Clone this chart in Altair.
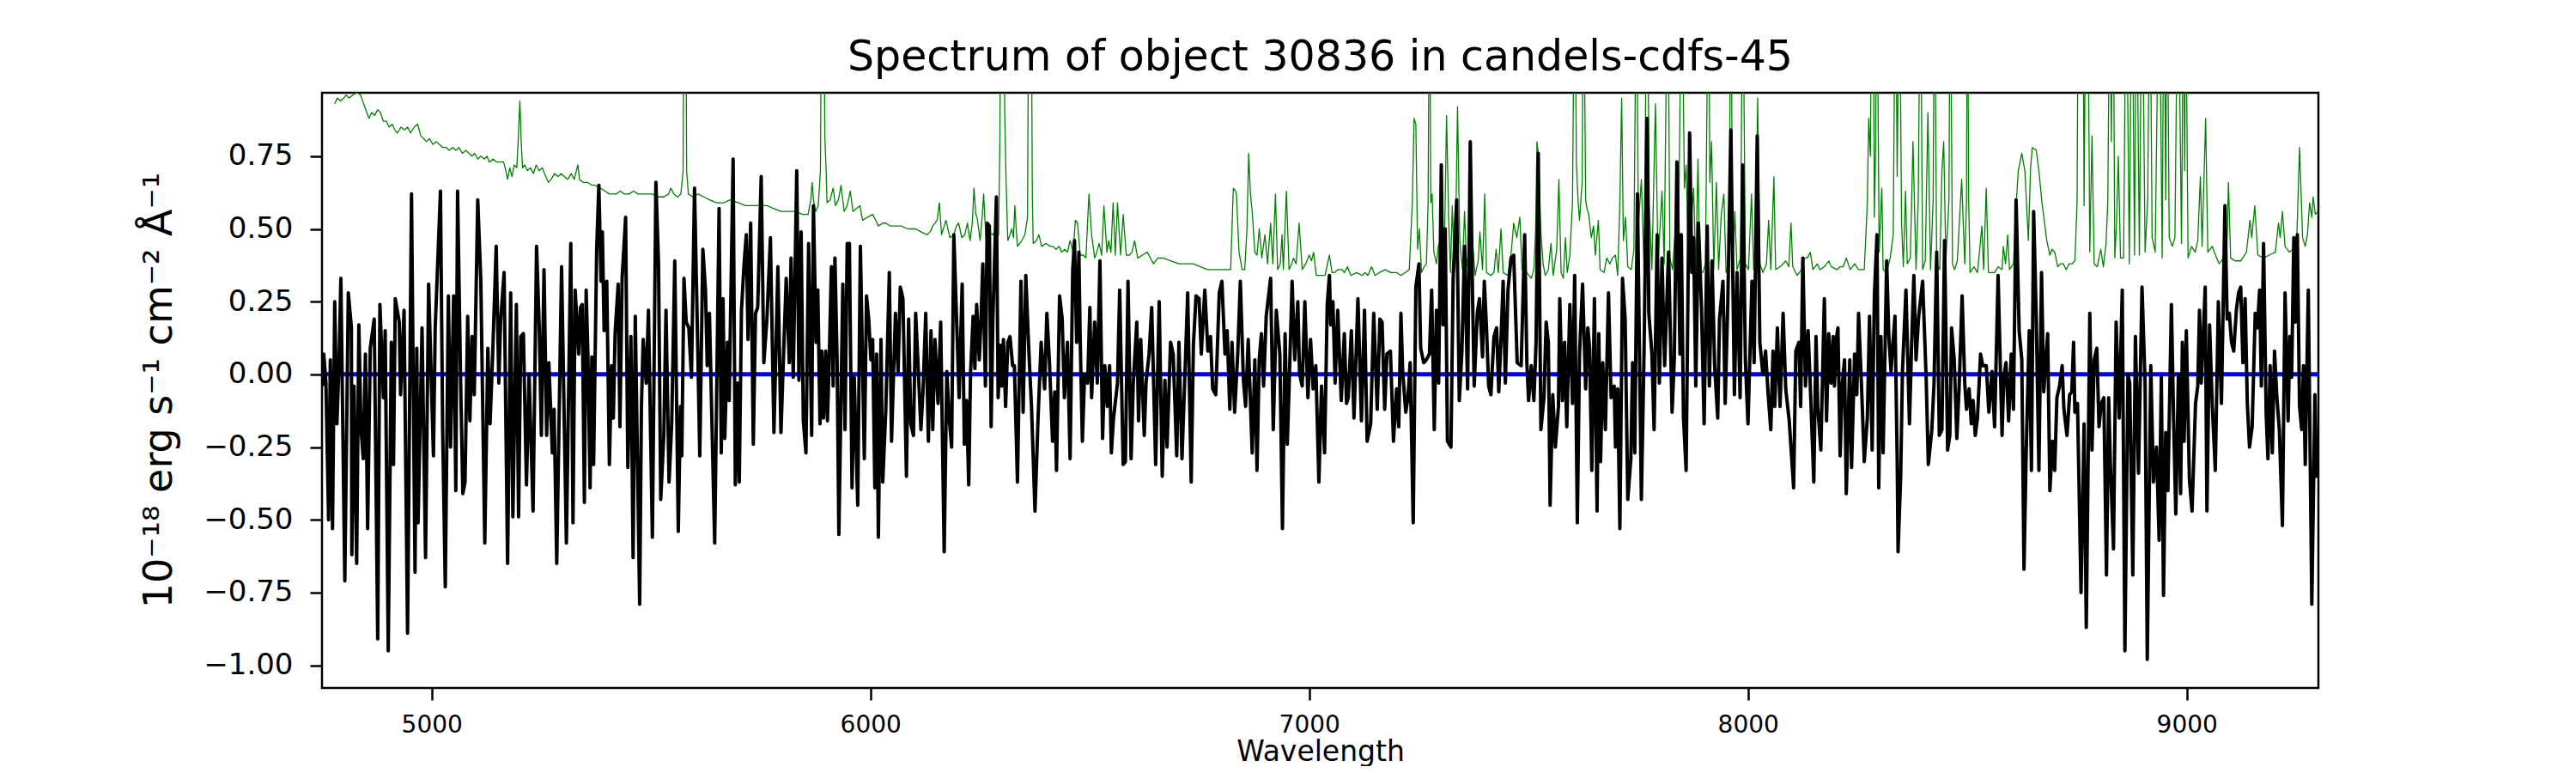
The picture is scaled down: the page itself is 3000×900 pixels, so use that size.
import altair as alt
import pandas as pd

# ---------------- data ----------------
# observed flux (black)
black_wave = [
4751,4754,4759,4765,4769,4774,4779,4784,4789,4793,4802,4810,4817,4818,4823,4829,4834,4839,4844,4849,
4854,4860,4869,4877,4882,4890,4894,4901,4908,4913,4917,4926,4929,4937,4945,4954,4962,4966,4969,4978,
4986,4993,5004,5008,5020,5025,5031,5038,5043,5050,5055,5059,5066,5071,5076,5082,5087,5092,5097,5105,
5112,5121,5128,5133,5139,5147,5153,5157,5165,5173,5180,5185,5193,5198,5203,5209,5216,5222,5231,5239,
5245,5250,5256,5262,5267,5275,5279,5285,5296,5307,5317,5322,5327,
5335,5339,5343,5348,5352,5356,5361,5365,5369,5376,5381,5386,5389,5393,5399,5405,5410,5414,5418,5425,
5429,5434,5442,5447,5454,5459,5464,5474,5478,5482,5489,5494,5503,5511,5517,5522,5529,5534,5541,5547,
5554,5562,5567,5570,5575,5580,5586,5592,5599,5606,5611,5618,5624,5628,5633,5645,5655,5660,5664,5668,
5674,5678,5687,5692,5697,5701,5706,5712,5717,5721,5727,5733,5738,5743,5751,5757,5764,5772,5780,5789,
5796,5802,5808,5815,5819,5824,5832,5837,5842,5847,5853,5859,5866,5870,5876,5880,5885,5889,
5893,5898,5902,5906,5911,5915,5919,5924,5928,5937,5942,5947,5952,5958,5963,5971,5977,5986,5991,5996,
6001,6005,6010,6014,6018,6024,6028,6035,6043,6048,6052,6057,6063,6068,6074,6082,6087,6092,6098,6103,
6108,6115,6120,6126,6132,6138,6142,6147,6154,6160,6168,6174,6180,6185,6190,6198,6202,6209,6214,6219,
6224,6228,6234,6238,6242,6248,6252,6256,6262,6266,6271,6275,6279,6287,6291,6296,6299,6303,6308,6313,
6318,6324,6328,6335,6343,6348,6354,6361,6367,6375,6382,6389,6397,6402,6408,6415,6420,6424,6431,6437,
6442,6449,6455,6461,
6465,6470,6475,6478,6483,6488,6495,6500,6504,6511,6517,6523,6529,6534,6540,6545,6549,6554,6563,6568,
6576,6581,6587,6594,6599,6607,6611,6616,6624,6628,6635,6641,6650,6658,6665,6671,6676,6684,6690,6698,
6703,6710,6716,6723,6731,6736,6742,6749,6754,6762,6769,6775,6780,6787,6795,6801,6808,6813,6819,6824,
6830,6837,6843,6850,6855,6861,6870,6876,6881,6886,6891,6896,6902,6912,6918,6925,6933,6939,6945,6950,
6954,6961,6967,6974,6978,6984,6990,6997,7003,7009,7015,7022,7028,
7035,7041,7046,7049,7054,7059,7065,7073,7080,7085,7089,7096,7102,7111,7119,7126,7132,7140,7147,7155,
7161,7166,7172,7177,7185,7192,7199,7204,7209,7213,7220,7225,7230,7237,7243,7250,7254,7261,7267,7274,
7279,7285,7290,7295,7301,7305,7310,7315,7323,7328,7336,7342,7348,7354,7361,7367,7372,7376,7383,7388,
7395,7399,7404,7409,7414,7421,7427,7432,7437,7442,7447,7453,7460,7466,7474,7483,7491,7496,7500,7506,
7512,7517,7522,7528,7535,7540,7545,7549,7555,7561,7568,7571,7577,7582,7587,7594,
7600,7605,7611,7616,7623,7630,7635,7639,7644,7650,7656,7660,7664,7669,7675,7682,7688,7695,7698,7703,
7708,7714,7720,7726,7733,7737,7742,7748,7757,7763,7770,7774,7781,7786,7793,7798,7804,7810,7819,7827,
7832,7838,7845,7848,7853,7859,7867,7872,7876,7881,7887,7894,7900,7907,7912,7918,7924,7931,7935,7943,
7948,7954,7961,7969,7975,7982,7988,7994,8000,8009,8014,8021,8027,8034,8040,8046,8052,8057,8061,8067,
8073,8080,8086,8094,8104,8109,8116,8120,8125,8131,8137,8142,8150,8155,
8159,8166,8174,8179,8184,8189,8194,8197,8202,8205,8210,8215,8220,8224,8232,8236,8243,8248,8252,8259,
8265,8272,8277,8283,8288,8294,8298,8303,8308,8316,8321,8326,8331,8335,8340,8342,8348,8352,8360,8368,
8373,8378,8383,8389,8398,8406,8411,8419,8424,8430,8436,8442,8448,8455,8460,8464,8470,8476,8481,8488,
8494,8498,8504,8509,8513,8518,8523,8530,8535,8543,8549,8556,8562,8570,8579,8583,8588,8594,8600,8605,
8611,8618,8624,8629,8634,8641,8646,8651,8657,8663,8669,8674,8683,8688,8694,8699,8704,8710,8716,8720,
8727,
8733,8738,8742,8745,8751,8759,8766,8771,8779,8784,8789,8795,8800,8805,8811,8817,8822,8826,8833,8839,
8846,8853,8859,8866,8870,8877,8883,8890,8898,8905,8910,8918,8924,8931,8937,8942,8947,8952,8957,8965,
8970,8975,8981,8986,8990,8994,8999,9006,9012,9020,9025,9029,9033,9042,9046,9052,9058,9065,9072,9079,
9087,9092,9097,9102,9107,9113,9118,9123,9128,9133,9138,9143,9149,9156,9161,9166,9170,9175,9181,9185,
9190,9195,9200,9205,9211,9218,9224,9231,9235,9239,9244,9247,9252,9257,9262,9266,9270,9277,9285,9292,
9296,9300,
]
black_flux = [
-0.04,0.07,-0.03,-0.50,0.05,-0.53,0.25,-0.17,0.05,0.33,-0.71,0.28,0.16,-0.62,-0.04,-0.65,0.17,-0.19,-0.29,0.07,
-0.53,0.09,0.19,-0.91,0.24,-0.08,0.15,-0.95,0.11,-0.31,0.26,0.18,-0.07,0.22,-0.89,0.62,-0.68,0.09,-0.51,0.16,
-0.63,0.31,-0.28,0.16,0.63,-0.19,-0.73,0.27,-0.25,0.27,-0.40,0.63,-0.03,-0.41,-0.37,0.20,-0.16,0.13,-0.07,0.60,
0.32,-0.58,0.09,-0.17,0.07,0.44,-0.03,0.18,0.35,-0.65,0.28,-0.49,0.24,-0.49,0.13,0.14,-0.38,0.00,-0.47,0.44,
0.17,-0.21,0.36,-0.21,0.04,-0.27,-0.12,-0.65,0.37,-0.58,0.45,-0.51,0.29,
0.07,0.23,0.24,-0.44,0.29,0.07,-0.39,0.06,-0.31,0.43,0.65,0.32,0.49,0.15,0.32,-0.31,0.03,-0.15,0.14,0.31,
-0.18,0.33,0.54,-0.32,0.13,-0.63,0.20,-0.79,-0.11,0.12,-0.03,0.22,-0.56,0.66,0.38,-0.43,-0.21,0.22,-0.37,-0.17,
0.39,-0.54,-0.11,-0.28,0.33,0.18,0.16,-0.01,0.64,0.12,-0.28,0.43,0.29,0.03,0.21,-0.58,0.57,-0.27,0.26,-0.22,
0.11,-0.09,0.74,-0.38,-0.03,-0.37,0.22,0.38,0.48,0.12,0.52,-0.24,0.21,0.23,0.68,0.04,0.19,0.47,-0.20,0.37,
-0.20,0.07,0.33,0.04,0.40,-0.01,0.70,-0.02,0.49,-0.16,-0.27,0.45,-0.21,0.58,0.11,0.29,-0.17,0.08,
-0.15,0.08,-0.16,0.05,0.37,-0.04,0.40,0.05,-0.55,0.31,-0.19,0.45,0.45,-0.39,-0.01,-0.45,0.44,-0.29,0.27,0.19,
0.05,0.12,-0.39,0.07,-0.56,0.12,-0.37,-0.12,0.35,-0.23,-0.03,0.21,0.01,0.30,0.26,-0.35,0.19,-0.17,-0.21,0.21,
0.05,-0.19,-0.05,0.21,-0.23,0.15,-0.19,0.12,-0.10,0.18,-0.61,0.01,-0.16,-0.25,0.48,0.11,-0.08,0.31,-0.24,-0.09,
-0.38,0.00,0.20,0.02,0.24,0.05,0.19,0.38,-0.04,0.52,0.51,-0.18,0.19,0.61,-0.08,0.10,-0.04,0.12,-0.11,0.11,
0.13,0.03,0.03,-0.37,0.32,-0.13,0.34,0.08,-0.11,-0.47,-0.15,0.11,-0.05,0.21,0.04,-0.23,-0.06,-0.33,0.27,0.19,
-0.08,0.11,-0.29,0.36,
0.46,0.11,0.42,0.12,-0.23,0.00,-0.03,0.23,-0.08,0.18,-0.03,0.39,-0.22,0.03,-0.11,0.03,-0.27,-0.15,-0.03,0.29,
-0.31,-0.30,0.32,-0.29,-0.03,0.18,-0.16,0.12,-0.21,-0.03,0.07,0.23,-0.31,0.25,-0.35,-0.02,-0.25,0.11,0.07,-0.28,
0.11,-0.29,-0.03,0.28,-0.37,0.10,0.27,0.26,0.07,0.29,0.08,0.13,-0.05,-0.07,0.28,0.32,0.07,0.15,-0.12,0.11,
-0.13,0.07,0.32,-0.02,-0.11,0.12,-0.27,0.05,-0.33,0.05,0.14,-0.04,0.20,0.33,-0.19,0.22,0.07,-0.53,0.14,-0.24,
-0.05,0.32,0.05,0.25,0.00,-0.04,0.25,-0.08,0.12,-0.05,0.03,-0.37,-0.04,
-0.27,0.24,0.34,0.17,0.25,-0.03,0.22,-0.09,0.14,-0.10,-0.08,0.15,-0.15,0.26,-0.16,0.22,-0.23,-0.17,0.21,-0.12,
0.19,0.18,-0.12,0.07,0.08,-0.23,-0.05,-0.18,0.21,0.01,-0.13,-0.08,0.04,-0.51,0.30,0.38,0.09,0.04,0.05,0.07,
0.29,-0.19,0.22,-0.03,0.72,0.17,0.50,-0.23,-0.25,0.33,0.60,-0.09,0.08,0.44,-0.05,0.80,0.29,-0.04,0.21,0.26,
0.06,0.32,0.16,-0.04,-0.07,0.13,0.16,-0.06,0.12,0.32,-0.03,0.29,0.40,0.41,0.04,0.03,0.48,0.04,-0.09,0.03,
-0.09,0.11,0.76,-0.19,-0.08,0.18,0.11,-0.45,-0.07,-0.25,-0.11,0.26,-0.09,0.11,-0.18,0.24,
-0.10,0.34,-0.51,0.07,0.31,-0.05,0.16,0.09,-0.33,0.26,-0.47,0.14,-0.30,0.04,-0.19,0.28,-0.08,-0.04,-0.25,-0.05,
-0.53,0.33,0.19,-0.43,-0.29,0.04,-0.27,0.62,-0.43,0.07,0.88,0.21,0.07,-0.19,0.48,-0.03,0.40,0.03,0.42,-0.13,
0.05,0.73,0.07,0.48,-0.15,-0.33,0.83,0.35,0.47,-0.04,0.52,0.23,-0.17,0.51,-0.04,0.39,0.03,-0.15,0.19,0.32,
-0.10,0.25,0.84,-0.07,0.35,-0.08,0.72,0.05,-0.17,0.32,0.04,0.82,0.11,0.00,0.08,-0.07,-0.19,0.08,-0.11,0.16,
-0.11,0.21,-0.05,-0.16,-0.39,0.08,0.11,-0.11,0.40,-0.04,0.15,-0.04,-0.37,0.13,
-0.11,-0.26,0.26,-0.16,0.14,-0.03,0.13,-0.04,0.13,0.16,-0.28,-0.03,0.05,-0.41,0.05,-0.32,0.07,-0.07,0.21,-0.05,
-0.30,-0.15,0.20,-0.26,0.27,0.48,-0.39,0.13,-0.27,0.39,0.13,0.01,0.12,0.20,-0.29,-0.61,-0.35,0.01,0.29,-0.17,
0.11,0.34,0.05,0.20,0.32,-0.01,-0.31,-0.19,-0.03,0.42,-0.21,-0.19,0.46,-0.26,-0.21,0.16,0.05,-0.22,-0.05,0.27,
-0.03,-0.12,-0.05,-0.17,-0.09,-0.21,-0.15,0.07,0.03,0.03,-0.13,0.01,-0.18,0.34,-0.21,-0.01,0.04,-0.16,0.07,-0.12,
0.60,0.15,0.05,-0.67,-0.27,0.15,-0.33,0.56,0.20,-0.33,0.35,-0.06,0.14,-0.40,-0.23,-0.33,-0.08,-0.04,0.03,-0.12,
-0.21,
-0.07,-0.06,0.11,-0.13,-0.10,-0.75,-0.17,-0.87,0.21,-0.26,0.05,0.09,-0.18,-0.10,-0.08,-0.69,-0.08,-0.31,-0.60,0.18,
-0.15,0.29,-0.95,0.00,-0.03,-0.69,0.13,-0.34,0.30,-0.03,-0.98,0.03,-0.37,-0.25,-0.57,-0.01,-0.76,-0.20,-0.40,0.24,
-0.16,-0.48,0.00,-0.41,0.11,-0.23,0.15,-0.36,-0.47,-0.10,-0.04,0.22,-0.03,0.30,-0.47,0.17,-0.10,-0.33,0.25,-0.10,
0.58,0.19,0.21,0.11,0.08,0.22,0.28,0.30,0.04,0.26,-0.10,-0.25,-0.18,0.21,0.16,0.29,-0.04,0.45,-0.14,-0.29,
0.03,-0.27,0.08,-0.07,-0.19,-0.52,0.28,-0.16,0.13,-0.01,0.47,0.18,0.48,-0.11,-0.19,0.03,-0.31,0.29,-0.79,-0.07,
-0.35,-0.30,
]

# error / sky spectrum (green); 1.5 marks sky-line spikes that run past the top
green_wave = [
4779,4785,4792,4800,4805,4812,4820,4830,4838,4845,4852,4857,4863,4870,4877,4883,4890,4897,4903,4910,
4916,4922,4930,4938,4945,4952,4960,4968,4975,4982,4988,4995,5003,5010,5018,5025,5033,5040,5048,5055,
5062,5070,5078,5085,5092,5098,5105,5112,5120,5126,5131,5140,5148,5156,5164,5169,5173,5178,5183,5188,
5194,5197,5201,5204,5207,5212,5218,5225,5232,5238,5245,5252,5260,5266,5272,5280,5288,5295,5302,5310,
5318,5325,
5333,5337,5345,5355,5365,5372,5385,5395,5405,5420,5430,5438,5450,5460,5470,5485,5495,5503,5515,5529,
5540,5545,5552,5560,5568,5573,5575,5579,5581,5585,5595,5607,5620,5633,5650,5666,5680,5699,5715,5731,
5748,5764,5780,5796,5812,5829,5845,5858,5864,5867,5870,5875,5881,5886,5889,5893,5896,5899,5901,
5908,5915,5920,5927,5933,5940,5947,5954,5960,5968,5976,5982,5993,6005,6012,6018,6028,6035,6045,6057,
6070,6085,6103,6115,6129,6136,6142,6152,6157,6162,6168,6172,6181,6190,6196,6201,6208,6215,6221,6227,
6232,6236,6240,6243,6250,6255,6258,6263,6270,6279,6286,6292,6295,6297,6303,6306,6309,6313,6318,6322,
6326,6329,6333,6335,6345,6352,6358,6361,6366,6369,6371,6378,6384,6390,6400,6410,6416,6423,6430,6436,
6443,6449,6455,6462,
6467,6472,6478,6485,6491,6498,6504,6511,6516,6521,6527,6532,6539,6543,6548,6553,6558,6563,6570,6576,
6583,6590,6596,6602,6609,6620,6631,6645,6655,6667,6685,6703,6720,6736,6752,6768,6790,6805,6821,6825,
6827,6832,6834,6840,6847,6853,6858,6862,6866,6870,6876,6881,6886,6892,6899,6905,6912,6917,6923,6928,
6934,6938,6941,6948,6954,6960,6964,6970,6977,6984,6992,7000,7005,7010,7016,7029,
7036,7046,7052,7058,7065,7075,7080,7087,7095,7108,7121,7127,7134,7142,7150,7160,7173,7186,7199,7209,
7219,7228,7235,7239,7243,7247,7251,7256,7262,7267,7271,7274,7277,7280,7284,7290,7294,7300,7305,7309,
7313,7318,7322,7326,7331,7334,7338,7343,7349,7354,7359,7363,7367,7372,7378,7385,7389,7395,7400,7404,
7414,7421,7426,7431,7437,7442,7453,7461,7466,7473,7480,7485,7496,7506,7512,7516,7519,7522,7528,7533,
7538,7545,7551,7556,7564,7569,7574,7579,7584,7588,7594,
7600,7605,7609,7613,7616,7622,7625,7630,7633,7637,7643,7648,7652,7659,7663,7672,7678,7685,7691,7698,
7703,7708,7712,7716,7721,7726,7734,7740,7746,7750,7757,7763,7770,7775,7781,7789,7795,7804,7809,7817,
7822,7828,7835,7841,7849,7855,7859,7864,7871,7876,7881,7886,7890,7897,7903,7910,7913,7917,7922,7928,
7933,7939,7945,7950,7957,7961,7965,7970,7975,7983,7988,7994,8001,8008,8013,8018,8022,8027,8034,8042,
8047,8052,8059,8063,8073,8080,8086,8093,8098,8102,8112,8122,8129,8135,8142,8148,8158,8164,
8174,8184,8190,8203,8210,8217,8224,8233,8243,8252,8265,8272,8275,8279,8282,8285,8288,8291,8294,8297,
8299,8305,8308,8316,8324,8331,8336,8340,8345,8350,8354,8359,8363,8370,8376,8383,8388,8393,8398,8404,
8410,8416,8422,8425,8430,8437,8442,8446,8451,8458,8461,8466,8471,8477,8487,8494,8498,8500,8503,8506,
8515,8523,8533,8537,8543,8548,8562,8570,8579,8582,8587,8592,8596,8605,8611,8616,8624,8631,8639,8644,
8648,8657,8663,8670,8676,8681,8688,8693,8699,8706,8712,8719,8725,8732,
8738,8745,8750,8753,8763,8766,8770,8774,8779,8784,8789,8796,8804,8810,8816,8820,8825,8828,8832,8836,
8840,8844,8849,8856,8862,8869,8875,8881,8885,8892,8898,8905,8911,8916,8921,8928,8937,8944,8948,8952,
8955,8960,8967,8973,8980,8988,8993,8995,8997,9003,9011,9019,9025,9031,9035,9043,9048,9058,9068,9074,
9084,9091,9095,9100,9110,9123,9136,9144,9148,9155,9162,9175,9188,9202,9209,9213,9218,9224,9234,9242,
9251,9257,9264,9270,9275,9280,9285,9288,9293,9299,
]
green_flux = [
0.93,0.95,0.94,0.95,0.96,0.95,0.96,0.97,0.96,0.93,0.90,0.88,0.90,0.89,0.91,0.90,0.87,0.87,0.85,0.86,
0.84,0.83,0.85,0.84,0.85,0.83,0.85,0.86,0.82,0.81,0.80,0.81,0.79,0.80,0.79,0.78,0.78,0.77,0.78,0.77,
0.78,0.76,0.77,0.76,0.75,0.76,0.74,0.75,0.74,0.75,0.73,0.74,0.73,0.73,0.73,0.70,0.67,0.71,0.68,0.72,
0.71,0.80,0.94,0.80,0.71,0.72,0.70,0.71,0.69,0.72,0.70,0.71,0.68,0.66,0.67,0.69,0.68,0.69,0.68,0.67,
0.69,0.67,
0.72,0.67,0.66,0.66,0.65,0.65,0.64,0.63,0.62,0.62,0.63,0.62,0.62,0.63,0.62,0.62,0.62,0.62,0.61,0.61,
0.62,0.64,0.62,0.61,0.62,0.70,1.5,1.5,0.70,0.62,0.61,0.62,0.61,0.60,0.59,0.59,0.60,0.59,0.58,0.58,
0.58,0.58,0.57,0.56,0.56,0.56,0.55,0.55,0.60,0.66,0.60,0.56,0.58,0.70,1.5,1.5,0.82,0.70,0.59,
0.60,0.64,0.58,0.60,0.65,0.56,0.58,0.63,0.56,0.57,0.58,0.53,0.54,0.55,0.53,0.51,0.52,0.52,0.51,0.51,
0.51,0.50,0.50,0.49,0.48,0.49,0.51,0.53,0.59,0.48,0.51,0.53,0.47,0.48,0.51,0.52,0.47,0.48,0.52,0.46,
0.52,0.64,0.55,0.54,0.46,0.55,0.62,0.47,0.49,0.48,0.50,0.48,0.80,1.5,1.5,0.90,0.67,0.46,0.48,0.50,
0.47,0.58,0.48,0.44,0.46,0.48,0.54,1.5,1.5,0.60,0.45,0.46,0.48,0.44,0.45,0.44,0.44,0.43,0.44,0.42,
0.43,0.42,0.46,0.42,
0.53,0.52,0.41,0.41,0.40,0.62,0.48,0.40,0.42,0.45,0.41,0.58,0.42,0.46,0.42,0.59,0.41,0.59,0.41,0.55,
0.41,0.41,0.42,0.46,0.40,0.41,0.42,0.38,0.40,0.40,0.39,0.38,0.38,0.38,0.37,0.36,0.36,0.36,0.36,0.55,
0.64,0.63,0.62,0.42,0.36,0.36,0.50,0.76,0.62,0.56,0.42,0.41,0.50,0.40,0.48,0.38,0.52,0.38,0.62,0.36,
0.38,0.48,0.36,0.63,0.36,0.38,0.40,0.38,0.52,0.36,0.38,0.41,0.39,0.42,0.34,0.34,
0.34,0.41,0.35,0.35,0.36,0.36,0.35,0.37,0.34,0.35,0.34,0.35,0.34,0.37,0.34,0.35,0.36,0.35,0.35,0.34,
0.35,0.36,0.59,0.88,0.86,0.43,0.50,0.35,0.37,0.38,0.59,1.5,0.59,0.62,0.42,0.38,0.44,0.46,0.42,0.52,
0.89,0.52,0.35,0.58,0.36,0.52,0.92,0.46,0.36,0.56,0.37,0.42,0.59,0.46,0.34,0.39,0.49,0.36,0.62,0.35,
0.34,0.35,0.43,0.35,0.50,0.35,0.34,0.43,0.52,0.47,0.54,0.36,0.35,0.33,0.36,0.50,0.80,0.76,0.49,0.38,
0.34,0.36,0.45,0.34,0.43,0.67,0.35,0.33,0.47,0.35,0.41,
0.59,1.5,0.72,0.59,0.53,0.66,1.5,0.60,0.57,0.55,0.47,0.51,0.41,0.53,0.36,0.35,0.40,0.38,0.40,0.41,
0.34,0.59,0.95,0.46,0.54,0.37,0.36,0.43,1.5,0.51,0.67,0.36,1.5,0.58,0.36,0.93,0.38,0.63,0.38,1.5,
0.40,0.36,0.51,0.36,1.5,0.64,0.72,0.38,0.52,0.64,0.36,0.74,0.36,0.35,0.38,1.5,0.66,0.80,0.36,0.66,
0.36,0.55,0.62,0.35,0.40,1.5,0.36,0.56,0.36,0.40,1.5,0.38,0.36,0.62,0.36,0.50,0.95,0.38,0.35,0.38,
0.53,0.36,0.68,0.36,0.37,0.38,0.39,0.37,0.52,0.37,0.34,0.36,0.40,0.40,0.42,0.36,0.38,0.36,
0.37,0.39,0.37,0.36,0.37,0.37,0.40,0.36,0.38,0.36,0.36,0.59,0.88,0.75,1.5,1.5,0.54,0.80,1.5,0.80,
0.42,0.64,0.36,0.35,0.40,0.48,1.5,0.68,1.5,0.52,0.37,0.63,0.38,0.40,0.80,0.36,0.60,1.5,0.36,0.39,
0.90,0.36,0.60,1.5,0.38,0.36,0.70,0.80,0.39,0.60,1.5,0.38,0.36,0.39,0.67,0.38,0.60,1.5,0.60,0.35,
0.37,0.35,0.51,0.36,0.64,0.35,0.35,0.37,0.36,0.44,0.38,0.48,0.36,0.38,0.58,0.70,0.76,0.70,0.46,0.71,
0.78,0.77,0.70,0.59,0.52,0.46,0.41,0.43,0.42,0.37,0.38,0.38,0.36,0.38,
0.38,0.39,0.59,1.5,1.5,0.58,1.5,1.5,0.42,0.82,0.38,0.37,0.43,0.37,0.45,0.59,1.5,0.80,1.5,0.40,
0.52,0.75,0.40,0.40,1.5,0.38,1.5,0.41,1.5,0.41,1.5,0.42,0.60,1.5,0.47,0.42,1.5,0.40,1.5,0.60,
1.5,0.47,0.44,0.47,1.5,0.45,1.5,0.70,1.5,0.40,0.44,0.42,0.46,0.68,0.44,0.88,0.42,0.44,0.40,0.38,
0.40,0.40,0.66,0.40,0.39,0.39,0.42,0.53,0.47,0.58,0.41,0.40,0.41,0.42,0.52,0.47,0.56,0.44,0.42,0.43,
0.48,0.78,0.47,0.44,0.48,0.59,0.54,0.61,0.55,0.56,
]

# continuum model (blue)
model_wave = [4750, 9300]
model_flux = [0.0, 0.0]

x_ticks = [5000, 6000, 7000, 8000, 9000]
y_ticks = [-1.0, -0.75, -0.5, -0.25, 0.0, 0.25, 0.5, 0.75]
x_domain = [4750, 9300]
y_domain = [-1.078, 0.968]

df_black = pd.DataFrame({"wave": black_wave, "flux": black_flux})
df_green = pd.DataFrame({"wave": green_wave, "flux": green_flux})
df_model = pd.DataFrame({"wave": model_wave, "flux": model_flux})

FONT = "DejaVu Sans"

x_enc = alt.X(
    "wave:Q",
    scale=alt.Scale(domain=x_domain, nice=False, zero=False),
    axis=alt.Axis(
        values=x_ticks, format="d", title="Wavelength",
        labelFontSize=28, titleFontSize=33, titleFontWeight="normal",
        titleY=84, titleBaseline="alphabetic",
        tickSize=14, tickWidth=2.5, tickColor="black",
        labelColor="black", titleColor="black",
        labelPadding=15, domain=False, grid=False,
        labelFont=FONT, titleFont=FONT,
    ),
)
y_enc = alt.Y(
    "flux:Q",
    scale=alt.Scale(domain=y_domain, nice=False, zero=False),
    axis=alt.Axis(
        values=y_ticks, format=".2f",
        title="10⁻¹⁸ erg s⁻¹ cm⁻² Å⁻¹",
        labelFontSize=34, titleFontSize=46, titleFontWeight="normal",
        titleAngle=270, titleX=-176, titleY=346, titleAlign="center",
        titleBaseline="alphabetic",
        tickSize=14, tickWidth=2.5, tickColor="black",
        labelColor="black", titleColor="black",
        labelPadding=20, domain=False, grid=False,
        labelFont=FONT, titleFont=FONT,
    ),
)

green = alt.Chart(df_green).mark_line(
    color="#008000", strokeWidth=1.3, clip=True, strokeJoin="round"
).encode(x=x_enc, y=y_enc, order="wave:Q")

model = alt.Chart(df_model).mark_line(
    color="#0000ff", strokeWidth=5, clip=True
).encode(x=x_enc, y=y_enc)

black = alt.Chart(df_black).mark_line(
    color="black", strokeWidth=4, clip=True, strokeJoin="round"
).encode(x=x_enc, y=y_enc, order="wave:Q")

chart = alt.layer(green, model, black).properties(
    width=2325,
    height=693,
    title=alt.TitleParams(
        "Spectrum of object 30836 in candels-cdfs-45",
        fontSize=49, font=FONT, fontWeight="normal", color="black",
        anchor="middle", baseline="alphabetic", offset=24, dy=47,
    ),
    autosize=alt.AutoSizeParams(type="none"),
    padding={"left": 367, "top": 100, "right": 292, "bottom": 91},
).configure(
    background="white"
).configure_view(
    stroke="black", strokeWidth=2.5
)

chart.save("out.html", embed_options={"renderer": "svg", "actions": False})
